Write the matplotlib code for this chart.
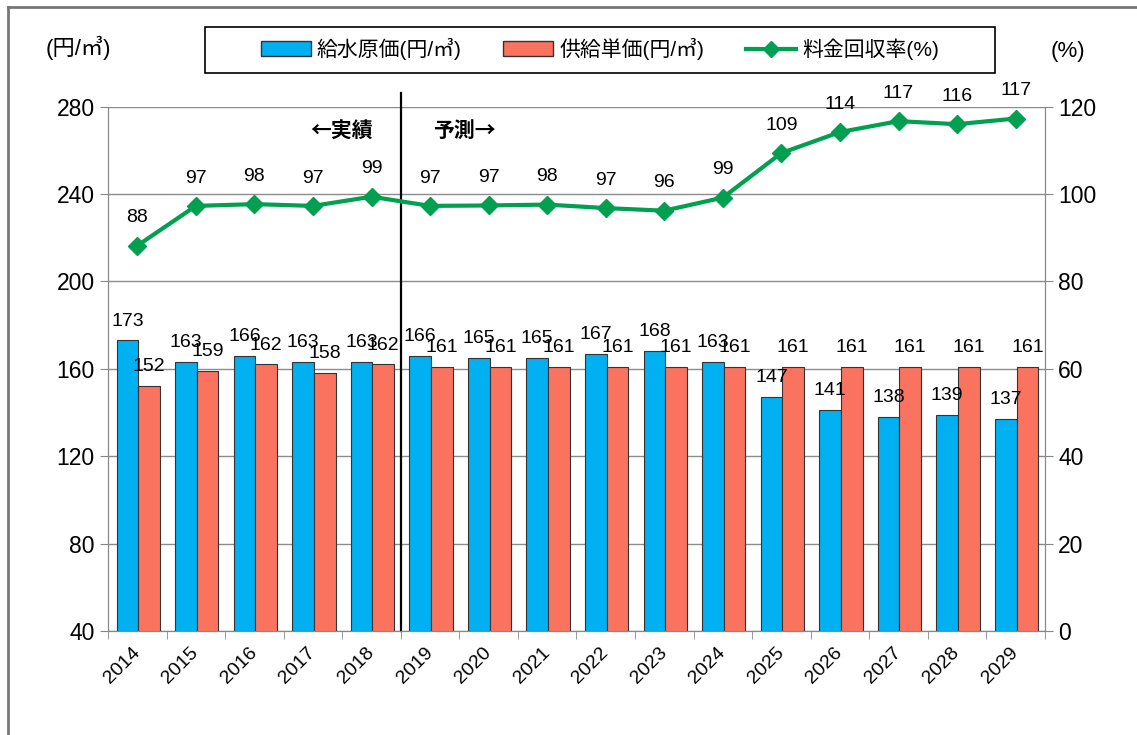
import numpy as np
import matplotlib.pyplot as plt
from matplotlib.lines import Line2D
from matplotlib.patches import Patch, Rectangle

plt.rcParams['font.family'] = ['Liberation Sans', 'Noto Sans CJK JP']

years = ['2014', '2015', '2016', '2017', '2018', '2019', '2020', '2021',
         '2022', '2023', '2024', '2025', '2026', '2027', '2028', '2029']
cost = [173, 163, 166, 163, 163, 166, 165, 165, 167, 168, 163, 147, 141, 138, 139, 137]
price = [152, 159, 162, 158, 162, 161, 161, 161, 161, 161, 161, 161, 161, 161, 161, 161]
rate = [88.2, 97.3, 97.7, 97.3, 99.4, 97.3, 97.4, 97.6, 96.8, 96.2, 99.2,
        109.4, 114.2, 116.7, 116.0, 117.3]

blue = '#00B0F0'
red = '#FA735F'
green = '#00A050'

fig = plt.figure(figsize=(11.37, 7.35), dpi=100)
ax = fig.add_axes([0.095, 0.1415, 0.824, 0.7133])
ax2 = ax.twinx()

x = np.arange(len(years))
w = 0.37
ax.bar(x - 0.17, cost, w, color=blue, edgecolor='#333333', linewidth=0.8, zorder=2)
ax.bar(x + 0.2, price, w, color=red, edgecolor='#333333', linewidth=0.8, zorder=2)

for xi, v in zip(x, cost):
    ax.annotate(str(v), (xi - 0.17, v), xytext=(0, 14), textcoords='offset points',
                ha='center', va='center', fontsize=14)
for xi, v in zip(x, price):
    ax.annotate(str(v), (xi + 0.2, v), xytext=(0, 14), textcoords='offset points',
                ha='center', va='center', fontsize=14)

ax2.plot(x, rate, color=green, lw=3, marker='D', markersize=9)
for xi, r in zip(x, rate):
    ax2.annotate(f"{r:.0f}", (xi, r), xytext=(0, 20), textcoords='offset points',
                 ha='center', va='center', fontsize=14)

ax.set_xlim(-0.5, len(years) - 0.5)
ax.set_ylim(40, 280)
ax.set_yticks(range(40, 281, 40))
ax2.set_ylim(0, 120)
ax2.set_yticks(range(0, 121, 20))

ax.set_xticks(x)
ax.set_xticklabels(years, rotation=45, ha='right', va='center', rotation_mode='anchor', fontsize=14)
ax.set_xticks(np.arange(-0.5, len(years), 1), minor=True)
ax.tick_params(axis='x', which='major', length=0, pad=14)
ax.tick_params(axis='x', which='minor', length=6, color='#888888')
ax.tick_params(axis='y', labelsize=16.5, length=6, color='#888888')
ax2.tick_params(axis='y', labelsize=16.5, length=6, color='#888888')

ax.grid(axis='y', color='#8c8c8c', lw=1)
ax.set_axisbelow(True)
for a in (ax, ax2):
    a.spines['top'].set_visible(False)
    for s in ('left', 'right', 'bottom'):
        a.spines[s].set_color('#888888')

# divider between actual and forecast
ax.plot([4.5, 4.5], [40, 286.3], color='black', lw=1.6, clip_on=False, zorder=3)
cjk = ['Noto Sans CJK JP', 'DejaVu Sans']
ax.text(4.02, 269, '←実績', ha='right', va='center', fontsize=15, fontweight='bold', family=cjk)
ax.text(5.05, 269, '予測→', ha='left', va='center', fontsize=15, fontweight='bold', family=cjk)

fig.text(78 / 1137, 1 - 48 / 735, '(円/㎥)', ha='center', va='center', fontsize=16)
fig.text(1068 / 1137, 1 - 52 / 735, '(%)', ha='center', va='center', fontsize=16)

handles = [Patch(facecolor=blue, edgecolor='#333333'),
           Patch(facecolor=red, edgecolor='#333333'),
           Line2D([], [], color=green, lw=3, marker='D', markersize=8)]
labels = ['給水原価(円/㎥)', '供給単価(円/㎥)', '料金回収率(%)']
fig.legend(handles, labels, loc='center', bbox_to_anchor=(600 / 1137, 1 - 49 / 735),
           ncol=3, fontsize=15, frameon=False, handlelength=2.4, handletextpad=0.3,
           columnspacing=2.0)
fig.add_artist(Rectangle((205 / 1137, 1 - 73 / 735), 790 / 1137, 46 / 735,
                         transform=fig.transFigure, fill=False, edgecolor='black', lw=1.2))

# outer frame
fig.add_artist(Line2D([8 / 1137, 8 / 1137], [0, 1 - 7 / 735], color='#777777', lw=2))
fig.add_artist(Line2D([8 / 1137, 1], [1 - 7 / 735, 1 - 7 / 735], color='#777777', lw=2))

fig.savefig('out.png', dpi=100)
